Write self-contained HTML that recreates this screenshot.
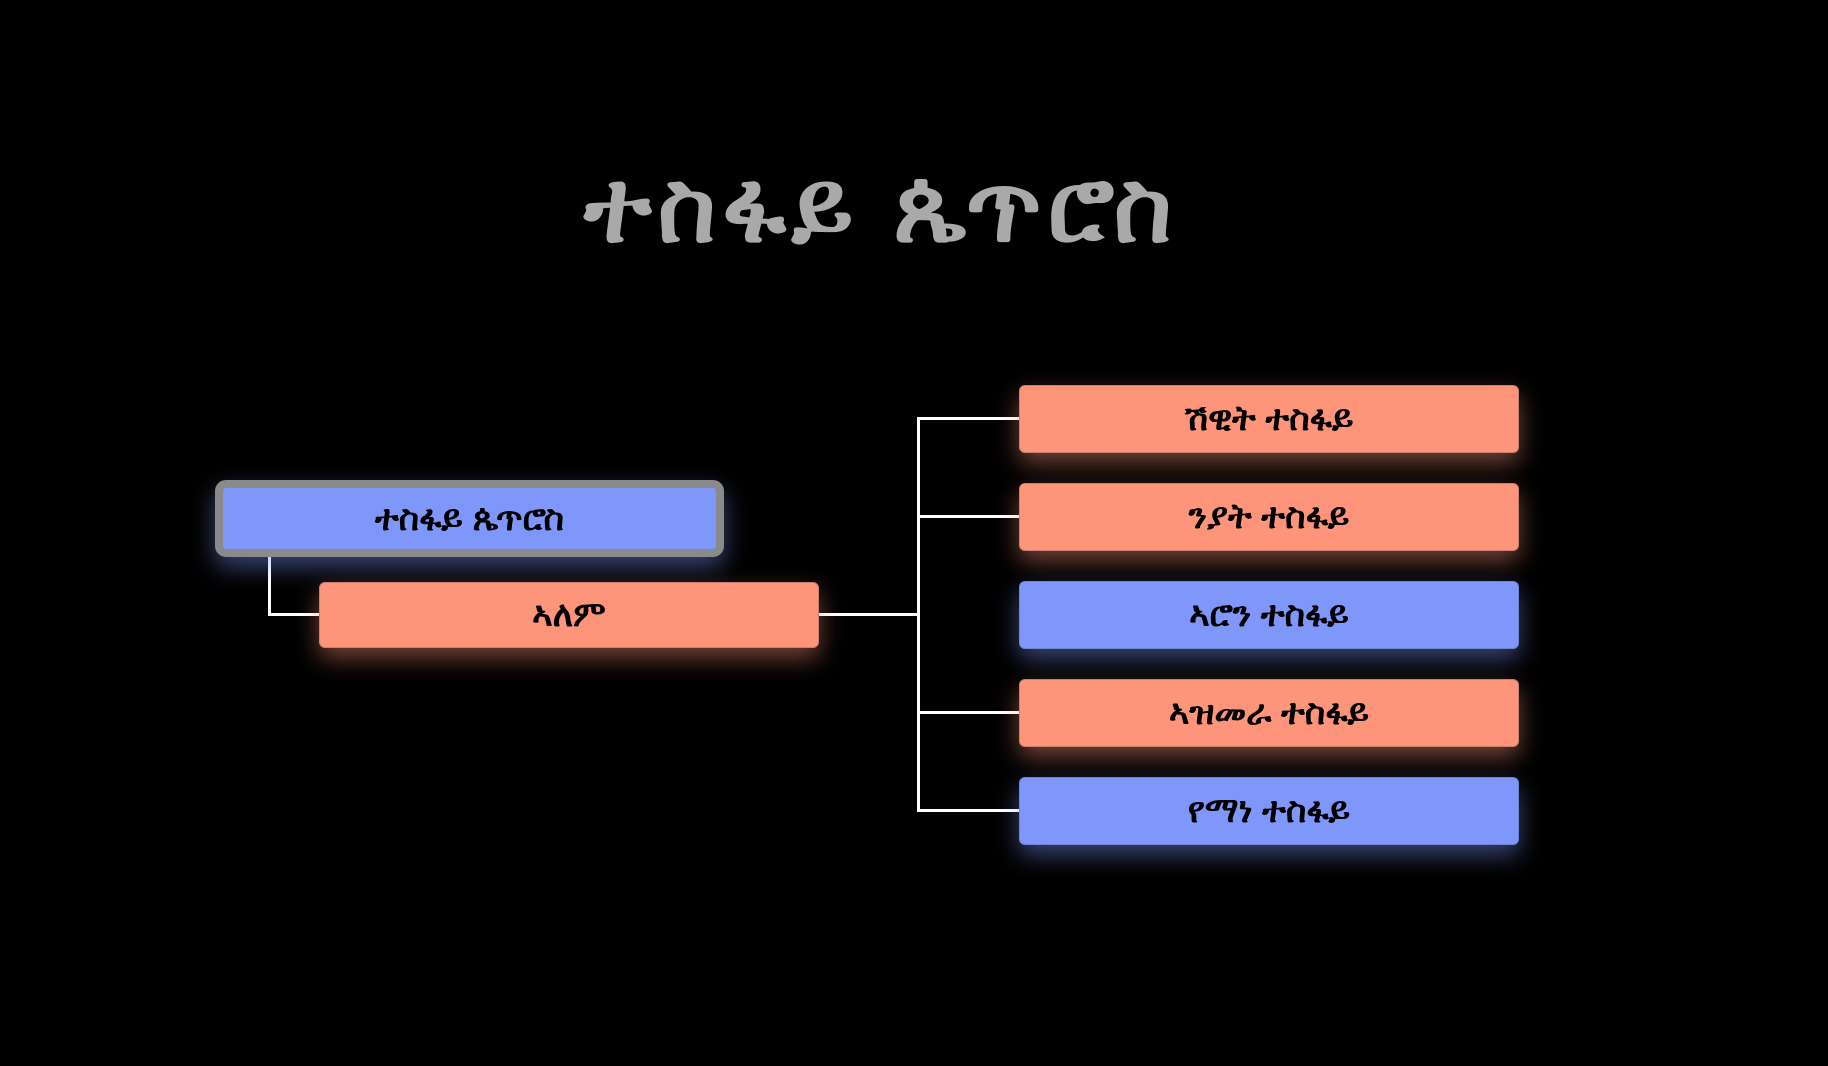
<!DOCTYPE html>
<html><head><meta charset="utf-8"><style>
body{margin:0;width:1828px;height:1066px;background:#000;position:relative;overflow:hidden;font-family:"Liberation Sans","DejaVu Sans","Noto Sans CJK SC",sans-serif}
.t{position:absolute;left:0;width:1762px;top:150px;text-align:center;color:#a9a9a9;font-size:100px;font-weight:bold;letter-spacing:6px}
.b{position:absolute;box-sizing:border-box;display:flex;align-items:center;justify-content:center;font-size:35px;font-weight:bold;color:#000;border-radius:6px}
.s{background:#fe957a;border:1px solid #c98070;box-shadow:0 10px 24px rgba(254,149,122,.45)}
.u{background:#7f96fb;border:1px solid #6f84d8;box-shadow:0 10px 24px rgba(127,150,251,.45)}
.l{position:absolute;background:#fff}
</style></head><body>
<div class="t">ተስፋይ ጴጥሮስ</div>
<div class="l" style="left:268px;top:556px;width:3px;height:60px"></div>
<div class="l" style="left:268px;top:613px;width:52px;height:3px"></div>
<div class="l" style="left:818px;top:613px;width:102px;height:3px"></div>
<div class="l" style="left:917px;top:417px;width:3px;height:395px"></div>
<div class="l" style="left:917px;top:417px;width:102px;height:3px"></div>
<div class="l" style="left:917px;top:515px;width:102px;height:3px"></div>
<div class="l" style="left:917px;top:711px;width:102px;height:3px"></div>
<div class="l" style="left:917px;top:809px;width:102px;height:3px"></div>
<div class="b u" style="left:215px;top:480px;width:509px;height:77px;border:8px solid #8a8a8a;border-radius:11px">ተስፋይ ጴጥሮስ</div>
<div class="b s" style="left:319px;top:582px;width:500px;height:66px">ኣለም</div>
<div class="b s" style="left:1019px;top:385px;width:500px;height:68px">ሽዊት ተስፋይ</div>
<div class="b s" style="left:1019px;top:483px;width:500px;height:68px">ንያት ተስፋይ</div>
<div class="b u" style="left:1019px;top:581px;width:500px;height:68px">ኣሮን ተስፋይ</div>
<div class="b s" style="left:1019px;top:679px;width:500px;height:68px">ኣዝመራ ተስፋይ</div>
<div class="b u" style="left:1019px;top:777px;width:500px;height:68px">የማነ ተስፋይ</div>
</body></html>
